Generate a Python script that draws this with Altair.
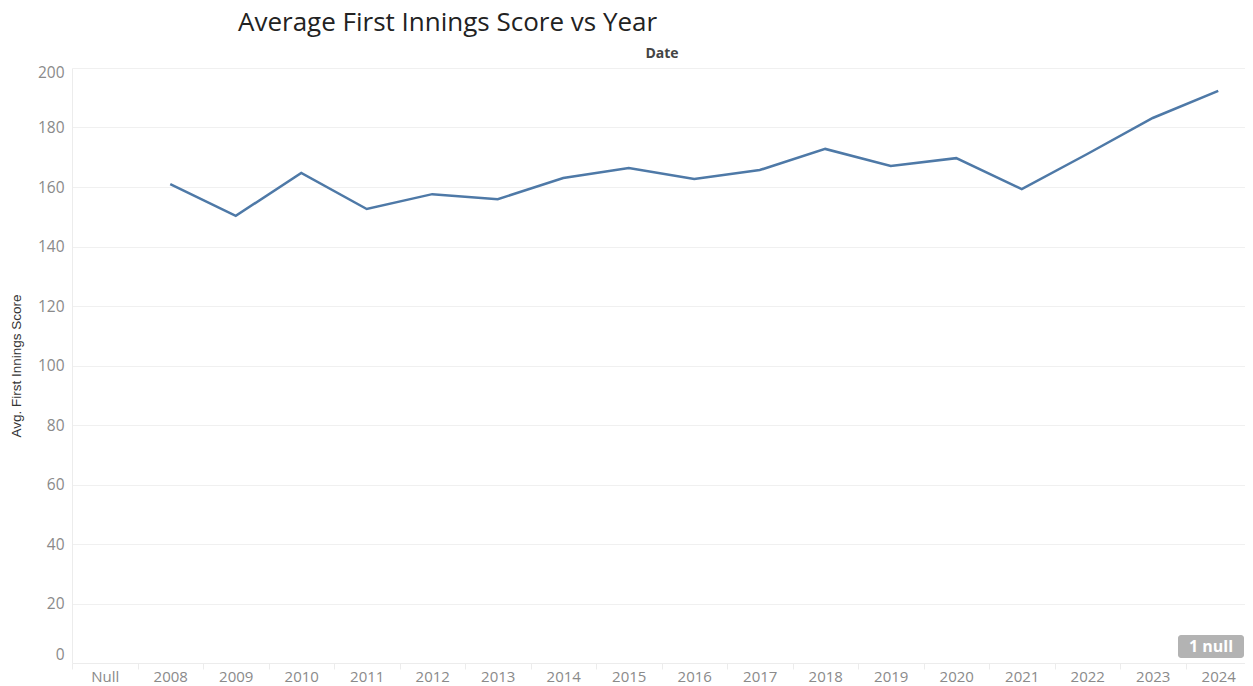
import altair as alt
import pandas as pd

years = ["Null", "2008", "2009", "2010", "2011", "2012", "2013", "2014", "2015",
         "2016", "2017", "2018", "2019", "2020", "2021", "2022", "2023", "2024"]
scores = [None, 161.0, 150.3, 164.7, 152.6, 157.6, 155.9, 163.0, 166.4,
          162.7, 165.7, 172.8, 167.1, 169.7, 159.3, 171.1, 183.2, 192.3]
y_ticks = [0, 20, 40, 60, 80, 100, 120, 140, 160, 180, 200]

df = pd.DataFrame({"Year": years, "Score": scores})

W, H = 1173, 595
xscale = alt.Scale(type="band", domain=years, range=[0, 1179],
                   paddingInner=0, paddingOuter=0)

line = alt.Chart(df).mark_line(color="#4e79a7", strokeWidth=2.5).encode(
    x=alt.X("Year:N", scale=xscale, bandPosition=0.5,
            axis=alt.Axis(title=None, labelAngle=0, tickBand="extent", ticks=True,
                          tickColor="#ececec", tickSize=6, domainColor="#ececec",
                          labelColor="#8a8a8a", labelFontSize=15, labelFont="Open Sans",
                          labelPadding=0, grid=False)),
    y=alt.Y("Score:Q", scale=alt.Scale(domain=[0, 200], nice=False),
            axis=alt.Axis(values=y_ticks, title="Avg. First Innings Score",
                          titleFont="Liberation Sans", titleFontSize=13.5,
                          titleFontWeight="normal", titleColor="#333333",
                          titlePadding=14, labelColor="#8a8a8a", labelFontSize=15.5,
                          labelFont="Open Sans", labelPadding=8, ticks=False,
                          labelOffset={"condition": [
                              {"test": "datum.value == 0", "value": -9},
                              {"test": "datum.value == 200", "value": 4}],
                              "value": 0},
                          domainColor="#ececec", gridColor="#f0f0f0")),
)

top_axis = alt.Chart(df).mark_line(opacity=0).encode(
    x=alt.X("Year:N", scale=xscale, bandPosition=0.5,
            axis=alt.Axis(orient="top", title="Date", labels=False, ticks=False,
                          domain=False, grid=False, titleFont="Open Sans", titleFontSize=14,
                          titleFontWeight="bold", titleColor="#444444", titlePadding=8)),
    y=alt.Y("Score:Q", axis=None),
)

badge_df = pd.DataFrame({"t": ["1 null"]})
badge_rect = alt.Chart(badge_df).mark_rect(fill="#b3b3b3", cornerRadius=3).encode(
    x=alt.value(1106), x2=alt.value(1172), y=alt.value(567), y2=alt.value(590))
badge_text = alt.Chart(badge_df).mark_text(color="white", fontWeight="bold", fontSize=16,
                                            font="Open Sans").encode(
    x=alt.value(1139), y=alt.value(579), text="t:N")

chart = alt.layer(line, top_axis, badge_rect, badge_text).resolve_axis(
    x="independent", y="independent"
).properties(
    width=W, height=H,
    title=alt.TitleParams("Average First Innings Score vs Year", anchor="start", frame="group",
                          dx=166, fontSize=26, font="Open Sans", fontWeight="normal",
                          color="#222222", offset=10),
    autosize=alt.AutoSizeParams(type="none"),
    padding={"left": 64, "top": 60, "right": 0, "bottom": 24},
).configure_view(stroke=None)

chart.save("out.html", embed_options={"renderer": "svg", "actions": False})
